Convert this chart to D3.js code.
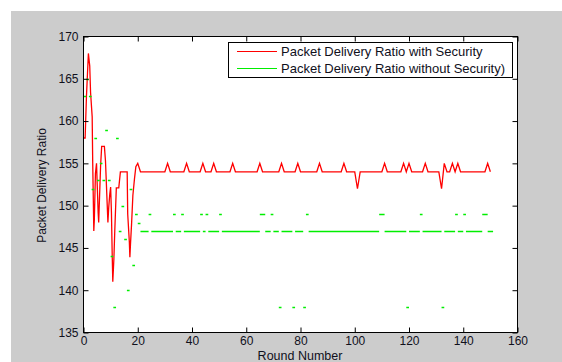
<!DOCTYPE html>
<html>
<head>
<meta charset="utf-8">
<script src="https://cdn.jsdelivr.net/npm/d3@7"></script>
<style>
  html, body { margin: 0; padding: 0; background: #ffffff; }
  svg { display: block; }
  text { font-family: "Liberation Sans", Arial, sans-serif; fill: #10101c; }
</style>
</head>
<body>
<svg id="chart" width="562" height="362"></svg>
<script>
// Packet delivery ratio per round, with and without security.

// Early rounds of the secured run (irregular sampling while it settles)
const securedEarlyRounds = [0, 0.6, 0.8, 1.1, 1.8, 2.3, 2.6, 3.2, 3.4, 3.8, 4.0, 4.4, 4.8, 5.4, 5.6,
  6.3, 6.7, 7.7, 8.1, 9.0, 9.3, 9.7, 10.0, 10.3, 10.6, 10.8, 11.2, 11.5, 12.1, 13.0, 13.6,
  16.1, 16.3, 16.9, 17.1, 17.3, 17.7, 18.2, 18.8, 19.3, 20];
const securedEarlyValues = [158, 158, 160, 163, 168, 166.5, 163.4, 160.5, 155, 147, 148.4, 153.8, 155, 149.2, 148,
  154.7, 157, 157, 155.3, 148, 149.8, 151.4, 152.2, 149.2, 143.9, 141, 143.7, 146.7, 152.1, 152.1, 154,
  154, 149, 145.7, 143.9, 145.3, 147.7, 151.2, 153.2, 154.6, 155];

// Rounds 21..150 of the secured run
const securedSteadyStart = 21;
const securedSteadyValues = [
  154,154,154,154,154,154,154,154,154,154,
  155,154,154,154,154,154,154,155,154,154,
  154,154,154,155,154,154,154,155,154,154,
  154,154,154,154,155,154,154,154,154,154,
  154,154,154,154,155,154,154,154,154,154,
  154,154,155,154,154,154,154,154,155,154,
  154,154,154,154,154,154,155,154,154,154,
  154,154,154,154,154,155,154,154,154,154,
  152,154,154,154,154,154,154,154,154,154,
  155,154,154,154,154,154,154,155,154,155,
  154,154,154,154,154,155,154,154,154,154,
  154,152,155,154,154,155,154,155,154,154,
  154,154,154,154,154,154,154,154,155,154
];

// Unsecured run, one value per round starting at round 0
const plainValues = [
  163,165,163,152,158,153,155,153,159,153,
  144,138,158,147,150,146,140,152,143,149,
  148,147,147,147,149,147,147,147,147,147,
  147,147,147,149,147,147,149,147,147,147,
  147,147,147,149,147,149,147,147,147,147,
  149,147,147,147,147,147,147,147,147,147,
  147,147,147,147,147,149,149,147,147,149,
  147,147,138,147,147,147,147,138,147,147,
  147,138,149,147,147,147,147,147,147,147,
  147,147,147,147,147,147,147,147,147,147,
  147,147,147,147,147,147,147,147,147,149,
  149,147,147,147,147,147,147,147,147,138,
  147,147,147,147,149,147,147,147,147,147,
  147,147,138,147,147,147,147,149,147,147,
  149,147,147,147,147,147,147,149,149,147,
  147
];

const xTicks = [0, 20, 40, 60, 80, 100, 120, 140, 160];
const yTicks = [135, 140, 145, 150, 155, 160, 165, 170];
const seriesNames = ["Packet Delivery Ratio with Security", "Packet Delivery Ratio without Security)"];
const seriesColors = ["#ff0000", "#00ee00"];

const svg = d3.select("#chart");

// Figure background
svg.append("rect").attr("x", 11).attr("y", 11).attr("width", 551).attr("height", 351).attr("fill", "#cccccc");

const x = d3.scaleLinear().domain([0, 160]).range([83.5, 517.5]);
const y = d3.scaleLinear().domain([135, 170]).range([332.5, 36.5]);

// Plot area
svg.append("rect")
  .attr("x", x(0)).attr("y", y(170))
  .attr("width", x(160) - x(0)).attr("height", y(135) - y(170))
  .attr("fill", "#ffffff");

svg.append("defs").append("clipPath").attr("id", "plotClip")
  .append("rect")
  .attr("x", x(0)).attr("y", y(170) - 1)
  .attr("width", x(160) - x(0)).attr("height", y(135) - y(170) + 2);

const plot = svg.append("g").attr("clip-path", "url(#plotClip)");

// Secured run as a polyline
const securedPoints = securedEarlyRounds.map((r, i) => [r, securedEarlyValues[i]])
  .concat(securedSteadyValues.map((v, i) => [securedSteadyStart + i, v]));

plot.append("path")
  .datum(securedPoints)
  .attr("fill", "none")
  .attr("stroke", seriesColors[0])
  .attr("stroke-width", 1.3)
  .attr("stroke-linejoin", "miter")
  .attr("d", d3.line().x(d => x(d[0])).y(d => y(d[1])));

// Unsecured run: horizontal level per round, runs of equal values merged
const runs = [];
plainValues.forEach((v, r) => {
  const last = runs[runs.length - 1];
  if (last && last.v === v && last.end === r) last.end = r + 1;
  else runs.push({ v, start: r, end: r + 1 });
});
const gp = d3.path();
runs.forEach(s => { gp.moveTo(x(s.start), Math.round(y(s.v)) + 0.5); gp.lineTo(x(s.end), Math.round(y(s.v)) + 0.5); });
plot.append("path")
  .attr("d", gp.toString())
  .attr("fill", "none")
  .attr("stroke", seriesColors[1])
  .attr("stroke-width", 1.4);

// Axes with inward ticks on all four sides
const fontSize = "12px";
const axisBottomG = svg.append("g").attr("transform", `translate(0,${y(135)})`)
  .call(d3.axisBottom(x).tickValues(xTicks).tickSize(-5).tickSizeOuter(0).tickPadding(4));
const axisLeftG = svg.append("g").attr("transform", `translate(${x(0)},0)`)
  .call(d3.axisLeft(y).tickValues(yTicks).tickSize(-5).tickSizeOuter(0).tickPadding(5));
const axisTopG = svg.append("g").attr("transform", `translate(0,${y(170)})`)
  .call(d3.axisTop(x).tickValues(xTicks).tickSize(-5).tickSizeOuter(0).tickFormat(""));
const axisRightG = svg.append("g").attr("transform", `translate(${x(160)},0)`)
  .call(d3.axisRight(y).tickValues(yTicks).tickSize(-5).tickSizeOuter(0).tickFormat(""));

[axisBottomG, axisLeftG, axisTopG, axisRightG].forEach(g => {
  g.selectAll(".domain").remove();
  g.selectAll("line").attr("stroke", "#000");
  g.selectAll("text").style("font-size", fontSize).style("font-family", "'Liberation Sans', Arial, sans-serif").attr("fill", "#10101c");
});

// Box
svg.append("rect")
  .attr("x", x(0)).attr("y", y(170))
  .attr("width", x(160) - x(0)).attr("height", y(135) - y(170))
  .attr("fill", "none").attr("stroke", "#000").attr("stroke-width", 1);

// Axis titles
svg.append("text")
  .attr("x", 300).attr("y", 360)
  .attr("text-anchor", "middle")
  .style("font-size", "12.5px")
  .text("Round Number");

svg.append("text")
  .attr("transform", "translate(46,185.5) rotate(-90)")
  .attr("text-anchor", "middle")
  .style("font-size", "12px")
  .text("Packet Delivery Ratio");

// Legend
const legend = svg.append("g");
legend.append("rect")
  .attr("x", 228.5).attr("y", 42.5).attr("width", 284).attr("height", 35)
  .attr("fill", "#ffffff").attr("stroke", "#000").attr("stroke-width", 1);
seriesNames.forEach((name, i) => {
  const cy = 51.5 + i * 17;
  legend.append("line")
    .attr("x1", 237).attr("x2", 277).attr("y1", cy).attr("y2", cy)
    .attr("stroke", seriesColors[i]).attr("stroke-width", 1);
  legend.append("text")
    .attr("x", 281).attr("y", cy + 4.5)
    .style("font-size", "13px")
    .text(name);
});
</script>
</body>
</html>
